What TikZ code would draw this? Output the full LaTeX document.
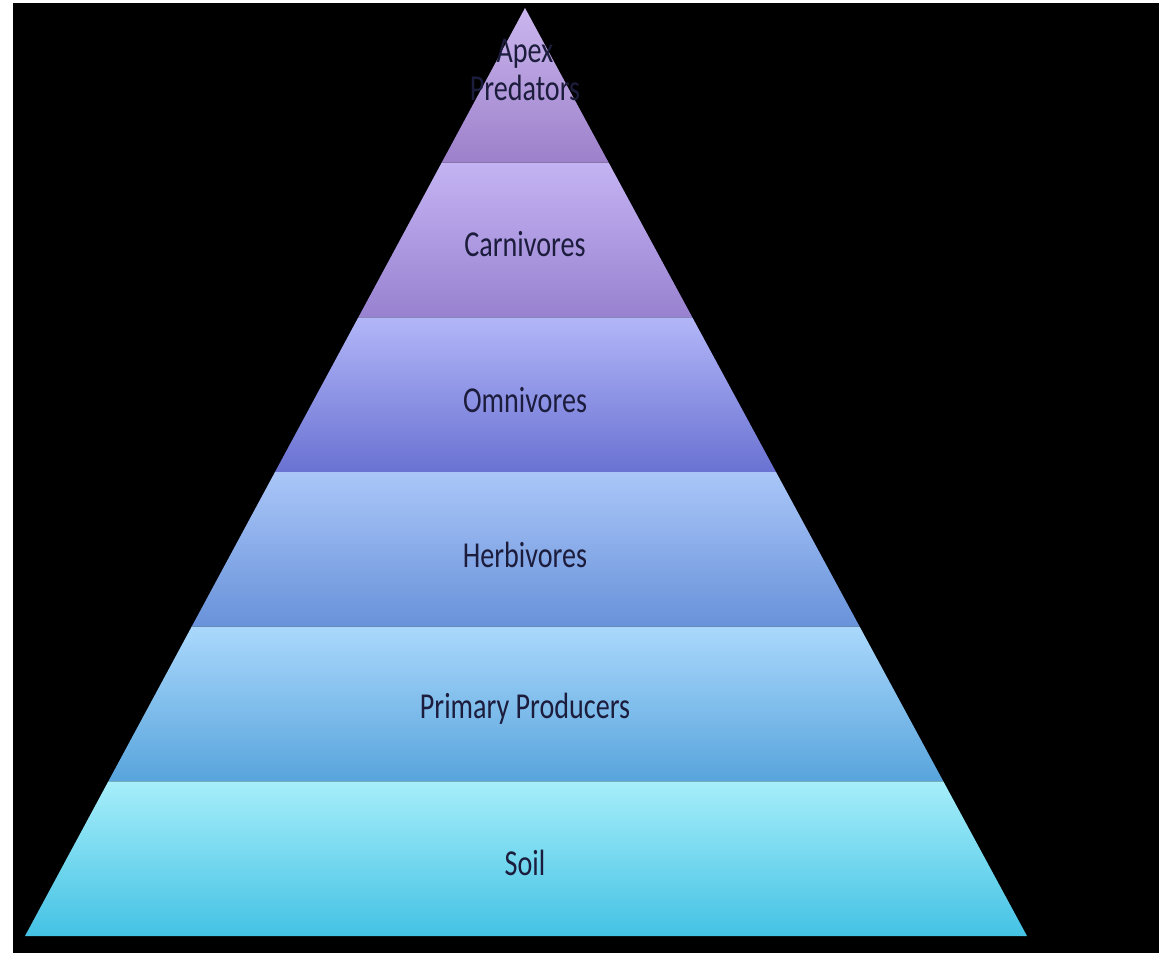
\documentclass[tikz,border=0pt]{standalone}
\usepackage{fontspec}
\setmainfont{Carlito}
\usetikzlibrary{calc}
\definecolor{lvlAtop}{HTML}{CBB6EE}
\definecolor{lvlAbot}{HTML}{9C80CA}
\definecolor{lvlBtop}{HTML}{C4B3F3}
\definecolor{lvlBbot}{HTML}{9882D0}
\definecolor{lvlCtop}{HTML}{B2B6F8}
\definecolor{lvlCbot}{HTML}{6A72D2}
\definecolor{lvlDtop}{HTML}{AAC6F8}
\definecolor{lvlDbot}{HTML}{6892DA}
\definecolor{lvlEtop}{HTML}{AAD8FC}
\definecolor{lvlEbot}{HTML}{58A4DC}
\definecolor{lvlFtop}{HTML}{A6EEFA}
\definecolor{lvlFbot}{HTML}{44C2E4}
\definecolor{lvltext}{HTML}{1C1C3C}
\tikzset{
  layer/.style={top color=#1top,bottom color=#1bot},
  lvllbl/.style={font=\fontsize{16}{19}\selectfont,text=lvltext,align=center,yscale=1.3,inner sep=0pt}
}

\begin{document}
\begin{tikzpicture}[x=0.02cm,y=-0.02cm]
  \useasboundingbox (0,0) rectangle (1175,953);
  % Backdrop
  \fill[black] (13,3) rectangle (1159,953);

  % Pyramid corners
  \coordinate (apex) at (525,8);
  \coordinate (bl) at (25,936);
  \coordinate (br) at (1027,936);

  % Layers, top to bottom
  \foreach \i/\c in {1/lvlA,2/lvlB,3/lvlC,4/lvlD,5/lvlE,6/lvlF}{
    \pgfmathsetmacro\ta{(\i-1)/6}
    \pgfmathsetmacro\tb{\i/6}
    \shade[layer=\c] ($(apex)!\ta!(bl)$) -- ($(apex)!\ta!(br)$)
      -- ($(apex)!\tb!(br)$) -- ($(apex)!\tb!(bl)$) -- cycle;
  }

  % Labels
  \node[lvllbl,font=\fontsize{16}{16.5}\selectfont] (apexlbl) at (525,70) {Apex\\Predators};
  \node[lvllbl] (carnlbl) at (525,244) {Carnivores};
  \node[lvllbl] (omnilbl) at (525,400) {Omnivores};
  \node[lvllbl] (herblbl) at (525,555) {Herbivores};
  \node[lvllbl] (prodlbl) at (525,709) {Primary Producers};
  \node[lvllbl] (soillbl) at (525,863) {Soil};
\end{tikzpicture}
\end{document}
